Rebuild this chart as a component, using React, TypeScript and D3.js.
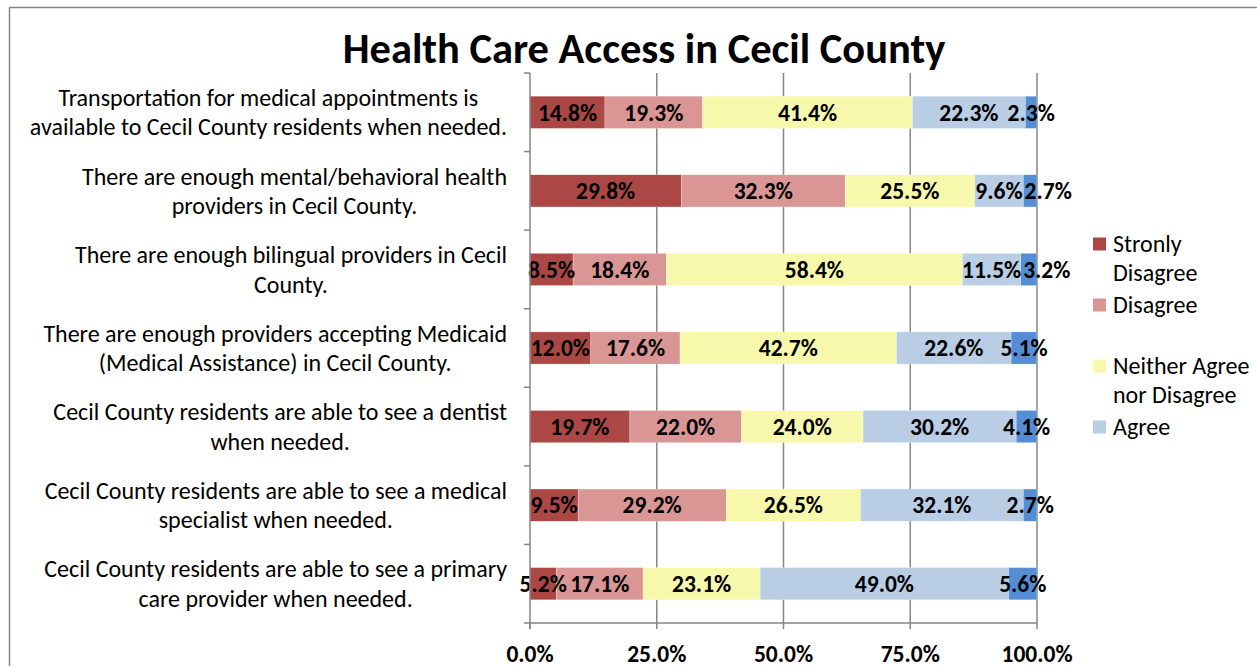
import React, { useEffect, useRef } from "react";
import * as d3 from "d3";

const categories: string[][] = [
  ["Transportation for medical appointments is", "available to Cecil County residents when needed."],
  ["There are enough mental/behavioral health", "providers in Cecil County."],
  ["There are enough bilingual providers in Cecil", "County."],
  ["There are enough providers accepting Medicaid", "(Medical Assistance) in Cecil County."],
  ["Cecil County residents are able to see a dentist", "when needed."],
  ["Cecil County residents are able to see a medical", "specialist when needed."],
  ["Cecil County residents are able to see a primary", "care provider when needed."],
];

const seriesNames = ["Strongly Disagree", "Disagree", "Neither Agree nor Disagree", "Agree", "Strongly Agree"];
const legendLines: string[][] = [["Stronly", "Disagree"], ["Disagree"], ["Neither Agree", "nor Disagree"], ["Agree"]];
const colors = ["#AB4744", "#DA9694", "#F8F8AC", "#B9CDE5", "#558ED5"];

const stronglyDisagree = [14.8, 29.8, 8.5, 12.0, 19.7, 9.5, 5.2];
const disagree = [19.3, 32.3, 18.4, 17.6, 22.0, 29.2, 17.1];
const neither = [41.4, 25.5, 58.4, 42.7, 24.0, 26.5, 23.1];
const agree = [22.3, 9.6, 11.5, 22.6, 30.2, 32.1, 49.0];
const stronglyAgree = [2.3, 2.7, 3.2, 5.1, 4.1, 2.7, 5.6];

const tickValues = [0, 0.25, 0.5, 0.75, 1];
const title = "Health Care Access in Cecil County";

const FONT = "Carlito, Calibri, Lato, 'Open Sans', sans-serif";

export default function App() {
  const ref = useRef<SVGSVGElement>(null);
  useEffect(() => {
    const svg = d3.select(ref.current);
    svg.selectAll("*").remove();
    const m = { left: 530, right: 1037, top: 73, bottom: 623 };
    const x = d3.scaleLinear().domain([0, 1]).range([m.left, m.right]);
    const y = d3.scaleBand<number>().domain(d3.range(categories.length)).range([m.top, m.bottom]).paddingInner(0.59).paddingOuter(0.295);
    const yb = d3.scaleBand<number>().domain(d3.range(categories.length)).range([m.top, m.bottom]);
    const grey = "#868686";

    svg.append("rect").attr("x", 9.5).attr("y", 7.5).attr("width", 1300).attr("height", 700)
      .attr("fill", "#fff").attr("stroke", grey).attr("stroke-width", 1.5);

    svg.append("text").attr("x", 644).attr("y", 63).attr("text-anchor", "middle")
      .attr("font-family", FONT).attr("font-weight", "bold").attr("font-size", 42.5).attr("fill", "#000")
      .text(title);

    // gridlines
    tickValues.slice(1).forEach((t) => {
      svg.append("line").attr("x1", x(t)).attr("x2", x(t)).attr("y1", m.top).attr("y2", m.bottom)
        .attr("stroke", grey).attr("stroke-width", 1.5);
    });

    const series = [stronglyDisagree, disagree, neither, agree, stronglyAgree];
    const rows = categories.map((_, i) => series.map((s) => s[i]));

    rows.forEach((vals, i) => {
      const total = d3.sum(vals);
      let cum = 0;
      let prevEnd = -Infinity;
      vals.forEach((v, j) => {
        const x0 = x(cum / total);
        const x1 = x((cum + v) / total);
        cum += v;
        svg.append("rect").attr("x", x0).attr("y", y(i)!).attr("width", x1 - x0).attr("height", y.bandwidth())
          .attr("fill", colors[j]).attr("stroke", "rgba(255,255,255,0.5)").attr("stroke-width", 0.5);
      });
      cum = 0;
      vals.forEach((v, j) => {
        const x0 = x(cum / total);
        const x1 = x((cum + v) / total);
        cum += v;
        const t = svg.append("text").attr("y", y(i)! + y.bandwidth() / 2).attr("dy", "0.35em")
          .attr("text-anchor", "middle").attr("font-family", FONT).attr("font-weight", "bold")
          .attr("font-size", 23.5).attr("fill", "#000").text(v.toFixed(1) + "%");
        const w = (t.node() as SVGTextElement).getComputedTextLength();
        let cx = (x0 + x1) / 2;
        if (cx - w / 2 < prevEnd + 2) cx = prevEnd + 2 + w / 2;
        t.attr("x", cx);
        prevEnd = cx + w / 2;
      });
    });

    // axes
    svg.append("line").attr("x1", m.left).attr("x2", m.left).attr("y1", m.top).attr("y2", m.bottom + 6)
      .attr("stroke", grey).attr("stroke-width", 1.5);
    svg.append("line").attr("x1", m.left - 6).attr("x2", m.right).attr("y1", m.bottom).attr("y2", m.bottom)
      .attr("stroke", grey).attr("stroke-width", 1.5);
    d3.range(categories.length).forEach((i) => {
      svg.append("line").attr("x1", m.left - 6).attr("x2", m.left).attr("y1", yb(i)!).attr("y2", yb(i)!)
        .attr("stroke", grey).attr("stroke-width", 1.5);
    });
    tickValues.forEach((t) => {
      svg.append("line").attr("x1", x(t)).attr("x2", x(t)).attr("y1", m.bottom).attr("y2", m.bottom + 6)
        .attr("stroke", grey).attr("stroke-width", 1.5);
      svg.append("text").attr("x", x(t)).attr("y", 662).attr("text-anchor", "middle")
        .attr("font-family", FONT).attr("font-weight", "bold").attr("font-size", 23.5).text(d3.format(".1%")(t));
    });

    // category labels
    categories.forEach((lines, i) => {
      const cy = yb(i)! + yb.bandwidth() / 2;
      const g = svg.append("g");
      const texts = lines.map((l, k) =>
        g.append("text").attr("y", cy + (k - (lines.length - 1) / 2) * 29.5).attr("dy", "0.35em")
          .attr("text-anchor", "middle").attr("font-family", FONT).attr("font-size", 24).attr("fill", "#000").text(l)
      );
      const maxW = d3.max(texts, (t) => (t.node() as SVGTextElement).getComputedTextLength()) || 0;
      texts.forEach((t) => t.attr("x", 507 - maxW / 2));
    });

    // legend
    const legendY = [244, 305, 366, 427];
    legendLines.forEach((lines, i) => {
      svg.append("rect").attr("x", 1093).attr("y", legendY[i] - 6.5).attr("width", 13).attr("height", 13).attr("fill", colors[i]);
      lines.forEach((l, k) => {
        svg.append("text").attr("x", 1113).attr("y", legendY[i] + k * 29).attr("dy", "0.35em")
          .attr("font-family", FONT).attr("font-size", 24).attr("fill", "#000").text(l);
      });
    });
    void seriesNames;
  }, []);
  return (
    <svg ref={ref} width={1257} height={666} style={{ position: "absolute", left: 0, top: 0, background: "#fff" }} />
  );
}
